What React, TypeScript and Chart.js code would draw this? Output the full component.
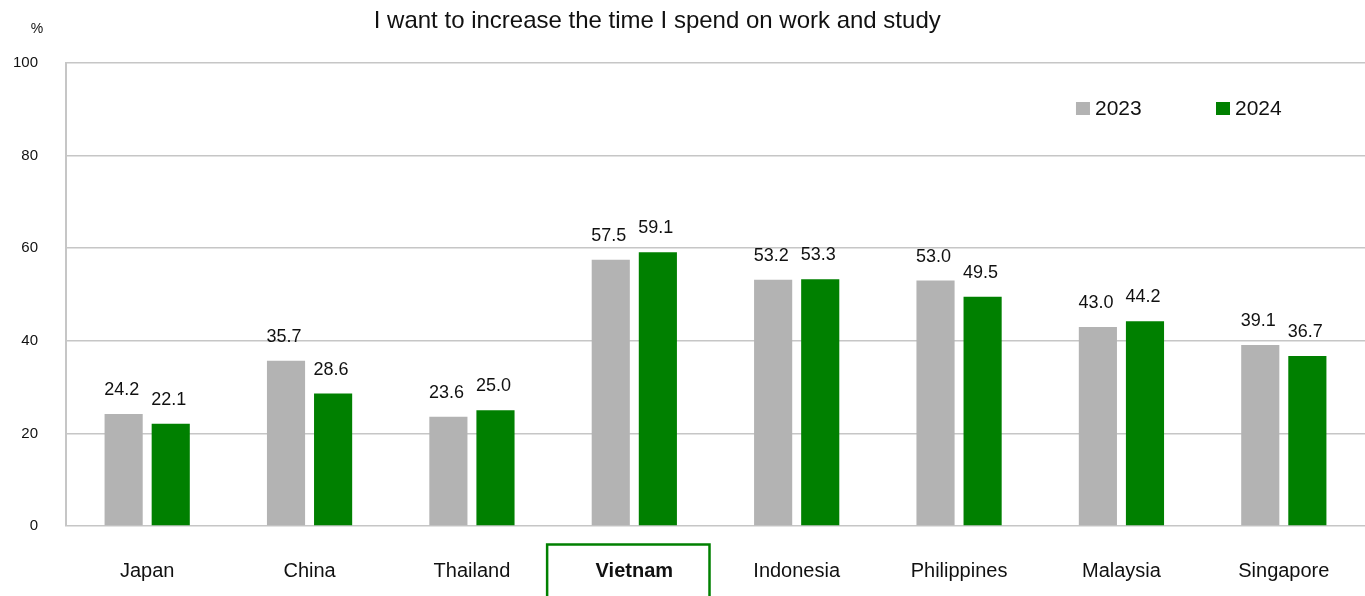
import React, { useEffect, useRef } from "react";
import { Chart, registerables } from "chart.js";

Chart.register(...registerables);

const categories = ["Japan", "China", "Thailand", "Vietnam", "Indonesia", "Philippines", "Malaysia", "Singapore"];
const values2023 = [24.2, 35.7, 23.6, 57.5, 53.2, 53.0, 43.0, 39.1];
const values2024 = [22.1, 28.6, 25.0, 59.1, 53.3, 49.5, 44.2, 36.7];
const seriesLabels = ["2023", "2024"];
const yTicks = [0, 20, 40, 60, 80, 100];
const titleText = "I want to increase the time I spend on work and study";
const unitText = "%";
const highlightIndex = 3;

const GREY = "#b3b3b3";
const GREEN = "#008000";
const GRID = "#c6c6c6";
const FONT = "'Liberation Sans', Arial, sans-serif";

const decorPlugin = {
  id: "decor",
  afterDatasetsDraw(chart: any) {
    const { ctx, chartArea, scales } = chart;
    ctx.save();
    // data labels
    ctx.font = `18px ${FONT}`;
    ctx.fillStyle = "#111";
    ctx.textAlign = "center";
    ctx.textBaseline = "alphabetic";
    chart.data.datasets.forEach((ds: any, di: number) => {
      const meta = chart.getDatasetMeta(di);
      meta.data.forEach((bar: any, i: number) => {
        const v = ds.data[i] as number;
        ctx.fillText(v.toFixed(1), bar.x - 2, bar.y - 19);
      });
    });
    // title
    ctx.font = `24px ${FONT}`;
    ctx.textBaseline = "middle";
    ctx.fillText(titleText, chart.width * 0.4815, 21);
    // unit
    ctx.font = `14px ${FONT}`;
    ctx.fillText(unitText, 37, 29);
    // legend
    const w = chartArea.right - chartArea.left;
    const items = [
      { label: seriesLabels[0], color: GREY, x: chartArea.left + w * 0.7775 },
      { label: seriesLabels[1], color: GREEN, x: chartArea.left + w * 0.8853 },
    ];
    ctx.font = `21px ${FONT}`;
    ctx.textAlign = "left";
    items.forEach((it) => {
      ctx.fillStyle = it.color;
      ctx.fillRect(it.x, 102, 14, 13);
      ctx.fillStyle = "#111";
      ctx.fillText(it.label, it.x + 19, 109);
    });
    // highlight box
    const xs = scales.x;
    const cw = xs.getPixelForValue(1) - xs.getPixelForValue(0);
    const xc = xs.getPixelForValue(highlightIndex);
    const left = xc - cw / 2 - 6;
    ctx.strokeStyle = GREEN;
    ctx.lineWidth = 2.5;
    ctx.strokeRect(left, chartArea.bottom + 18.5, cw, 100);
    ctx.restore();
  },
};

export default function App() {
  const ref = useRef<HTMLCanvasElement | null>(null);
  useEffect(() => {
    document.body.style.margin = "0";
    const canvas = ref.current;
    if (!canvas) return;
    const chart = new Chart(canvas, {
      type: "bar",
      data: {
        labels: categories,
        datasets: [
          { label: seriesLabels[0], data: values2023, backgroundColor: GREY, categoryPercentage: 0.58, barPercentage: 0.81 },
          { label: seriesLabels[1], data: values2024, backgroundColor: GREEN, categoryPercentage: 0.58, barPercentage: 0.81 },
        ],
      },
      options: {
        responsive: false,
        animation: false,
        layout: { padding: { top: 63, left: 0, right: 0, bottom: 0 } },
        plugins: { legend: { display: false }, title: { display: false }, tooltip: { enabled: false } },
        scales: {
          x: {
            grid: { display: false },
            border: { display: false },
            ticks: {
              padding: 25,
              color: "#111",
              font: (c: any) => ({ family: FONT, size: 20, weight: c.index === highlightIndex ? "bold" : "normal" }),
            },
            afterFit: (s: any) => {
              s.height = 70;
            },
          },
          y: {
            min: 0,
            max: 100,
            afterBuildTicks: (s: any) => {
              s.ticks = yTicks.map((v) => ({ value: v }));
            },
            grid: { color: GRID, lineWidth: 1.5, drawTicks: false },
            border: { color: GRID, width: 2 },
            ticks: { padding: 28, color: "#111", font: { family: FONT, size: 15 } },
            afterFit: (s: any) => {
              s.width = 66;
            },
          },
        },
      },
      plugins: [decorPlugin],
    });
    return () => chart.destroy();
  }, []);
  return (
    <div style={{ position: "fixed", left: 0, top: 0, width: 1365, height: 596, background: "#fff" }}>
      <canvas ref={ref} width={1365} height={596} />
    </div>
  );
}
